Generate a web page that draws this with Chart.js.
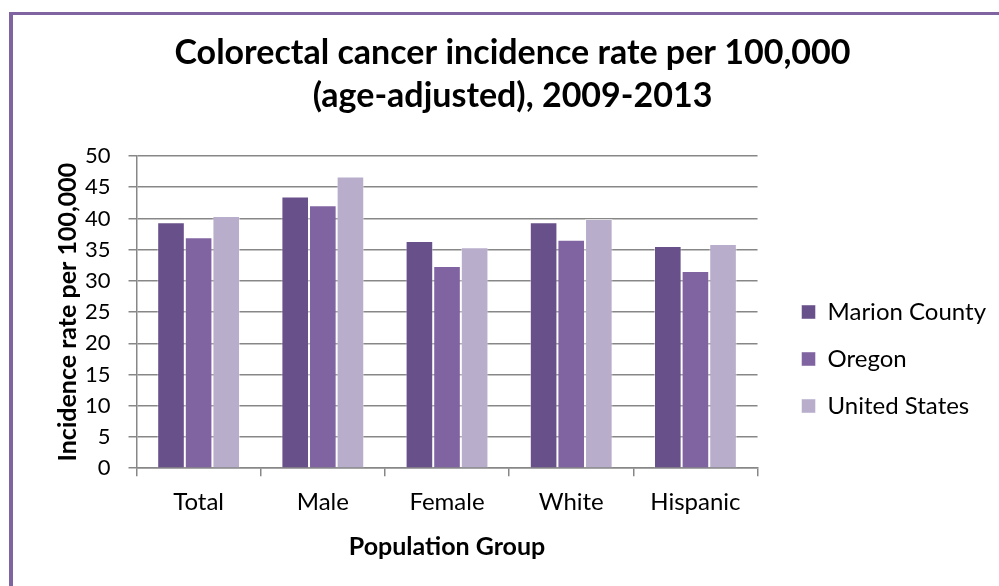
<!DOCTYPE html>
<html lang="en">
<head>
<meta charset="UTF-8">
<title>Colorectal cancer incidence rate</title>
<script src="https://cdn.jsdelivr.net/npm/chart.js"></script>
<style>
  html, body { margin: 0; padding: 0; background: #fff; overflow: hidden; }
  .frame { position: absolute; left: 9px; top: 12px; width: 1200px; height: 800px;
    border-top: 3px solid #8064a2; border-left: 4px solid #8064a2; }
  #chart { position: absolute; left: 0; top: 0; }
</style>
</head>
<body>
<div class="frame"></div>
<canvas id="chart" width="999" height="586"></canvas>
<script>
const groups = ["Total", "Male", "Female", "White", "Hispanic"];
const marionCounty = [39.4, 43.5, 36.4, 39.4, 35.6];
const oregon = [37.0, 42.1, 32.4, 36.6, 31.6];
const unitedStates = [40.4, 46.7, 35.4, 39.9, 35.9];
const yTicks = [0, 5, 10, 15, 20, 25, 30, 35, 40, 45, 50];

const FONT = "Lato, 'Open Sans', sans-serif";
const gridGray = "#878787";

// the legend sits a bit away from the plot, like in the original
const legendNudge = {
  id: "legendNudge",
  afterLayout(chart) {
    const lg = chart.legend;
    const dx = 21, dy = 359 - (lg.top + lg.bottom) / 2;
    lg.left += dx; lg.right += dx; lg.top += dy; lg.bottom += dy;
  }
};

new Chart(document.getElementById("chart").getContext("2d"), {
  type: "bar",
  data: {
    labels: groups,
    datasets: [
      { label: "Marion County", data: marionCounty, backgroundColor: "#68518a" },
      { label: "Oregon", data: oregon, backgroundColor: "#8064a2" },
      { label: "United States", data: unitedStates, backgroundColor: "#b8aecb" }
    ].map(d => Object.assign(d, {
      categoryPercentage: 0.667, barPercentage: 1,
      borderColor: "rgba(255,255,255,0.45)", borderWidth: 1
    }))
  },
  plugins: [legendNudge],
  options: {
    responsive: false,
    animation: false,
    layout: { padding: { left: 50, right: 24, top: 32, bottom: 24 } },
    plugins: {
      title: {
        display: true,
        text: ["Colorectal cancer incidence rate per 100,000", "(age-adjusted), 2009-2013"],
        color: "#000",
        font: { family: FONT, size: 34, weight: "bold", lineHeight: 1.25 },
        padding: { top: 0, bottom: 39 }
      },
      legend: {
        position: "right",
        labels: {
          color: "#000",
          boxWidth: 14, boxHeight: 14,
          padding: 23,
          font: { family: FONT, size: 24 }
        }
      },
      tooltip: { enabled: false }
    },
    scales: {
      x: {
        grid: { drawOnChartArea: false, tickLength: 8, color: gridGray, lineWidth: 1.5 },
        border: { color: gridGray, width: 1.5 },
        ticks: { color: "#000", font: { family: FONT, size: 24 }, padding: 12 },
        title: { display: true, text: "Population Group", color: "#000",
          font: { family: FONT, size: 25, weight: "bold" }, padding: { top: 3, bottom: 0 } }
      },
      y: {
        min: 0, max: 50,
        afterBuildTicks: s => { s.ticks = yTicks.map(v => ({ value: v })); },
        grid: { tickLength: 8, color: gridGray, lineWidth: 1.5 },
        border: { color: gridGray, width: 1.5 },
        ticks: { color: "#000", font: { family: FONT, size: 22 }, padding: 18 },
        title: { display: true, text: "Incidence rate per 100,000", color: "#000",
          font: { family: FONT, size: 25, weight: "bold" }, padding: { top: 3, bottom: -16 } }
      }
    }
  }
});
</script>
</body>
</html>
